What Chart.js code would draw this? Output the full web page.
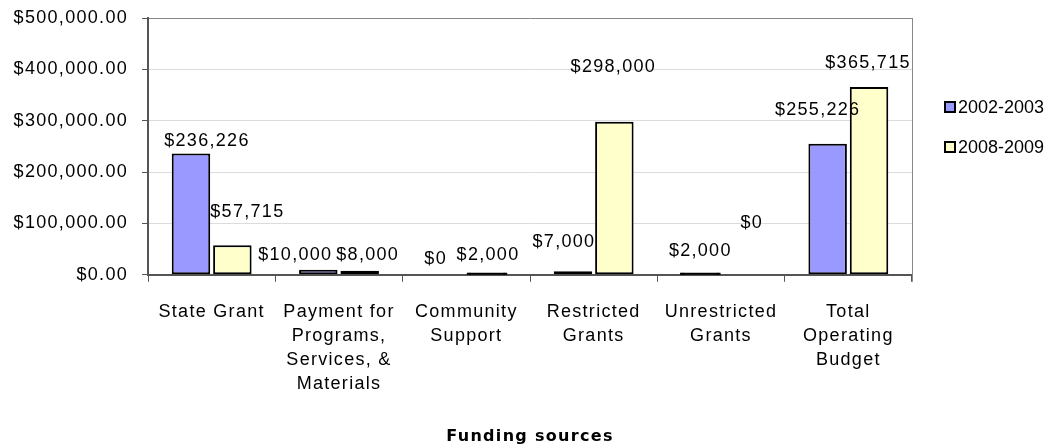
<!DOCTYPE html>
<html>
<head>
<meta charset="utf-8">
<script src="https://cdn.jsdelivr.net/npm/chart.js@4.4.1/dist/chart.umd.min.js"></script>
<style>
  html, body { margin: 0; padding: 0; background: #fff; }
  #wrap { width: 1049px; height: 447px; position: relative; }
</style>
</head>
<body>
<div id="wrap"><canvas id="fundingChart"></canvas></div>
<script>
// data
const categories = [
    "State Grant",
    ["Payment for", "Programs,", "Services, &", "Materials"],
    ["Community", "Support"],
    ["Restricted", "Grants"],
    ["Unrestricted", "Grants"],
    ["Total", "Operating", "Budget"]
];
const seriesNames = ["2002-2003", "2008-2009"];
const values2002 = [236226, 10000, 0, 7000, 2000, 255226];
const values2008 = [57715, 8000, 2000, 298000, 0, 365715];
const yTicks = [0, 100000, 200000, 300000, 400000, 500000];

const seriesColors = ["#9999FF", "#FFFFCC"];

// where each value label sits, relative to the top of its bar (px)
const labelNudge = [
    [[16, -12], [-23, -15], [-10, -16], [-9, -29], [0, -23], [-10, -34]],
    [[15, -33], [8, -16], [1, -19], [-1, -55], [10, -52], [-1, -24]]
];

const FONT = "'Liberation Sans', Arial, sans-serif";
const SPACING = "1.3px";

// old excel text is spaced out a bit
const spacingPlugin = {
    id: "spacing",
    beforeUpdate(chart) { chart.ctx.letterSpacing = SPACING; },
    beforeDraw(chart) { chart.ctx.letterSpacing = SPACING; }
};

const frameLines = {
    id: "frameLines",
    beforeDatasetsDraw(chart) {
        const a = chart.chartArea;
        const ctx = chart.ctx;
        ctx.save();
        ctx.strokeStyle = "#888";
        ctx.lineWidth = 1;
        ctx.beginPath();
        ctx.moveTo(a.right + 0.5, a.top);
        ctx.lineTo(a.right + 0.5, a.bottom + 7);
        ctx.stroke();
        ctx.restore();
    }
};

const valueLabels = {
    id: "valueLabels",
    afterDatasetsDraw(chart) {
        const ctx = chart.ctx;
        ctx.save();
        ctx.font = "18px " + FONT;
        ctx.fillStyle = "#000";
        ctx.textAlign = "center";
        ctx.textBaseline = "middle";
        chart.data.datasets.forEach((ds, i) => {
            chart.getDatasetMeta(i).data.forEach((bar, j) => {
                const [dx, dy] = labelNudge[i][j];
                ctx.fillText("$" + ds.data[j].toLocaleString("en-US"), bar.x + dx, bar.y + dy);
            });
        });
        ctx.restore();
    }
};

const sideLegend = {
    id: "sideLegend",
    afterDraw(chart) {
        const ctx = chart.ctx;
        const a = chart.chartArea;
        ctx.save();
        ctx.letterSpacing = "0px";
        ctx.font = "18px " + FONT;
        ctx.textAlign = "left";
        ctx.textBaseline = "middle";
        chart.data.datasets.forEach((ds, i) => {
            const x = a.right + 33;
            const y = a.top + 89 + i * 40;
            ctx.fillStyle = seriesColors[i];
            ctx.fillRect(x, y - 5, 10, 10);
            ctx.lineWidth = 2;
            ctx.strokeStyle = "#000";
            ctx.strokeRect(x, y - 5, 10, 10);
            ctx.fillStyle = "#000";
            ctx.fillText(ds.label, x + 13, y + 1);
        });
        ctx.restore();
    }
};

// tiny bars are nothing but their outline, so draw them solid and a bit thicker
const isTiny = c => c.raw > 0 && c.raw < 5000;
const tinyInflate = c => isTiny(c) ? 1.2 : "auto";
const fillFor = color => c => isTiny(c) ? "#000" : color;

const ctxFunding = document.getElementById("fundingChart").getContext("2d");
new Chart(ctxFunding, {
    type: "bar",
    data: {
        labels: categories,
        datasets: [
            {
                label: seriesNames[0],
                data: values2002,
                backgroundColor: fillFor(seriesColors[0]),
                borderColor: "#000",
                borderWidth: 2,
                borderSkipped: false,
                inflateAmount: tinyInflate
            },
            {
                label: seriesNames[1],
                data: values2008,
                backgroundColor: fillFor(seriesColors[1]),
                borderColor: "#000",
                borderWidth: 2,
                borderSkipped: false,
                inflateAmount: tinyInflate
            }
        ]
    },
    options: {
        responsive: true,
        maintainAspectRatio: false,
        animation: false,
        categoryPercentage: 0.65,
        barPercentage: 0.93,
        layout: { padding: { top: 18, right: 137, bottom: 0, left: 0 } },
        plugins: {
            legend: { display: false },
            tooltip: { enabled: false },
            title: {
                display: true,
                position: "bottom",
                fullSize: false,
                text: "Funding sources",
                color: "#000",
                font: { family: "'DejaVu Sans', sans-serif", weight: "bold", size: 16 },
                padding: { top: 0, bottom: 1 }
            }
        },
        scales: {
            x: {
                grid: {
                    display: true,
                    drawOnChartArea: false,
                    offset: true,
                    tickLength: 7,
                    tickColor: "#555"
                },
                border: { color: "#555", width: 2 },
                ticks: {
                    color: "#000",
                    padding: 18,
                    maxRotation: 0,
                    autoSkip: false,
                    font: { family: FONT, size: 18, lineHeight: 24 / 18 }
                },
                afterFit(scale) { scale.height = 152; }
            },
            y: {
                min: yTicks[0],
                max: yTicks[yTicks.length - 1],
                afterBuildTicks(scale) {
                    scale.ticks = yTicks.map(v => ({ value: v }));
                },
                grid: {
                    color: c => (c.tick && c.tick.value === yTicks[yTicks.length - 1]) ? "#888" : "#dcdcdc",
                    tickLength: 6,
                    tickColor: "#555"
                },
                border: { color: "#555", width: 2 },
                ticks: {
                    color: "#000",
                    padding: 14,
                    font: { family: FONT, size: 18 },
                    callback: value => "$" + value.toLocaleString("en-US", { minimumFractionDigits: 2, maximumFractionDigits: 2 })
                },
                afterFit(scale) {
                    scale.width = 148;
                    scale.paddingTop = 0;
                    scale.paddingBottom = 0;
                }
            }
        }
    },
    plugins: [spacingPlugin, frameLines, valueLabels, sideLegend]
});
</script>
</body>
</html>
